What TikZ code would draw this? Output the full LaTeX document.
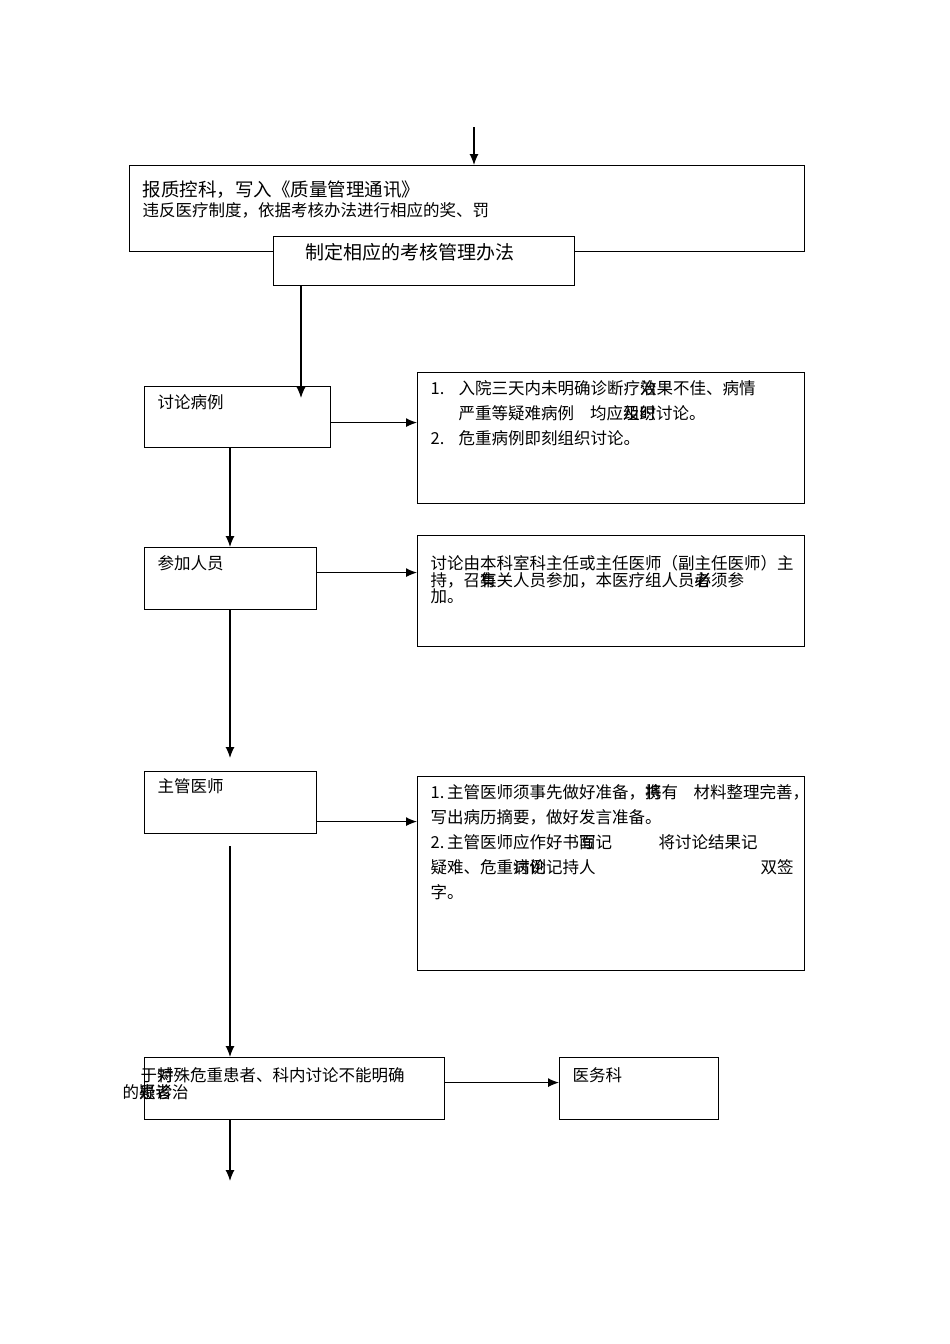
\documentclass[tikz,border=0pt]{standalone}
\usepackage{fontspec}
\setmainfont{Noto Sans CJK SC}
\usepackage{tikz}
\usetikzlibrary{positioning}
\usetikzlibrary{arrows.meta}

\begin{document}
\begin{tikzpicture}[x=1pt,y=-1pt,line width=1.2pt]
		\tikzstyle{box}=[draw=black, fill=white, anchor=north west, inner sep=0pt]
		\tikzstyle{txt}=[inner sep=0pt, anchor=north west, align=left, font=\fontsize{16.5}{25}\selectfont]
		\tikzset{>={Latex[length=11pt,width=9pt]}}
		\useasboundingbox (0,0) rectangle (950,1344);
		% boxes
		\node[box, minimum width=675, minimum height=86] (report) at (129,165) {};
		\node[box, minimum width=301, minimum height=49] (rules) at (273,236) {};
		\node[box, minimum width=186, minimum height=61] (cases) at (144,386) {};
		\node[box, minimum width=387, minimum height=131] (when) at (417,372) {};
		\node[box, minimum width=172, minimum height=62] (members) at (144,547) {};
		\node[box, minimum width=387, minimum height=111] (who) at (417,535) {};
		\node[box, minimum width=172, minimum height=62] (doctor) at (144,771) {};
		\node[box, minimum width=387, minimum height=194] (duty) at (417,776) {};
		\node[box, minimum width=300, minimum height=62] (special) at (144,1057) {};
		\node[box, minimum width=159, minimum height=62] (office) at (559,1057) {};
		% texts
		\node[txt, font=\fontsize{18.5}{20}\selectfont, below right=15pt and 13pt of report.north west] (reporttext){报质控科，写入《质量管理通讯》};
		\node[txt, below right=37pt and 13pt of report.north west] (rewardtext){违反医疗制度，依据考核办法进行相应的奖、罚};
		\node[txt, font=\fontsize{19}{20}\selectfont, below right=7pt and 32pt of rules.north west] (rulestext){制定相应的考核管理办法};
		\node[txt, below right=8pt and 13pt of cases.north west] (casestext){讨论病例};
		\node[txt, below right=8pt and 13pt of when.north west] (whentext){\makebox[28pt][l]{1.}入院三天内未明确诊断疗\rlap{治}效果不佳、病情\\
			\hspace*{28pt}严重等疑难病例\hspace{16pt}均应\rlap{及}组\rlap{时}织讨论。\\
			\makebox[28pt][l]{2.}危重病例即刻组织讨论。};
		\node[txt, below right=8pt and 13pt of members.north west] (memberstext){参加人员};
		\node[txt, font=\fontsize{16.5}{16.5}\selectfont, below right=20pt and 13pt of who.north west] (whotext){讨论由本科室科主任或主任医师（副主任医师）主\\
			持，召\rlap{集}有关人员参加，本医疗组人员\rlap{者}必须参\\
			加。};
		\node[txt, below right=7pt and 13pt of doctor.north west] (doctortext){主管医师};
		\node[txt, below right=8pt and 13pt of duty.north west] (dutytext){\makebox[263pt][l]{1.\,主管医师须事先做好准备，\rlap{将}携有}材料整理完善，\\
			写出病历摘要，做好发言准备。\\
			\makebox[228pt][l]{2.\,主管医师应作好书\rlap{写}面记}将讨论结果记\\
			\makebox[330pt][l]{疑难、危重\rlap{病例}讨论记持人}双签\\
			字。};
		\node[txt, font=\fontsize{16.5}{17}\selectfont, below right=10pt and -22pt of special.north west] (specialtext){\hspace*{18pt}于\rlap{对}特殊危重患者、科内讨论不能明确\\
			的\rlap{患}疑\rlap{者}诊治};
		\node[txt, below right=10pt and 13pt of office.north west] (officetext){医务科};
		% connectors
		\coordinate (start) at (474,127);
		\coordinate (spine) at (230,0);
		\coordinate (tip1) at (301,398);
		\coordinate (tip2) at (230,758);
		\coordinate (resume) at (230,846);
		\coordinate (stop) at (230,1181);
		\draw[->] (start) -- (start |- report.north);
		\draw[->] (rules.south -| tip1) -- (tip1);
		\draw[->] ([yshift=-5.5pt]cases.east) -- ([yshift=-5.5pt]cases.east -| when.west);
		\draw[->] (cases.south -| spine) -- (members.north -| spine);
		\draw[->] ([yshift=6pt]members.east) -- ([yshift=6pt]members.east -| who.west);
		\draw[->] (members.south -| spine) -- (tip2);
		\draw[->] ([yshift=-19pt]doctor.east) -- ([yshift=-19pt]doctor.east -| duty.west);
		\draw[->] (resume) -- (special.north -| spine);
		\draw[->] ([yshift=6pt]special.east) -- ([yshift=6pt]special.east -| office.west);
		\draw[->] (special.south -| spine) -- (stop);
	\end{tikzpicture}
\end{document}
